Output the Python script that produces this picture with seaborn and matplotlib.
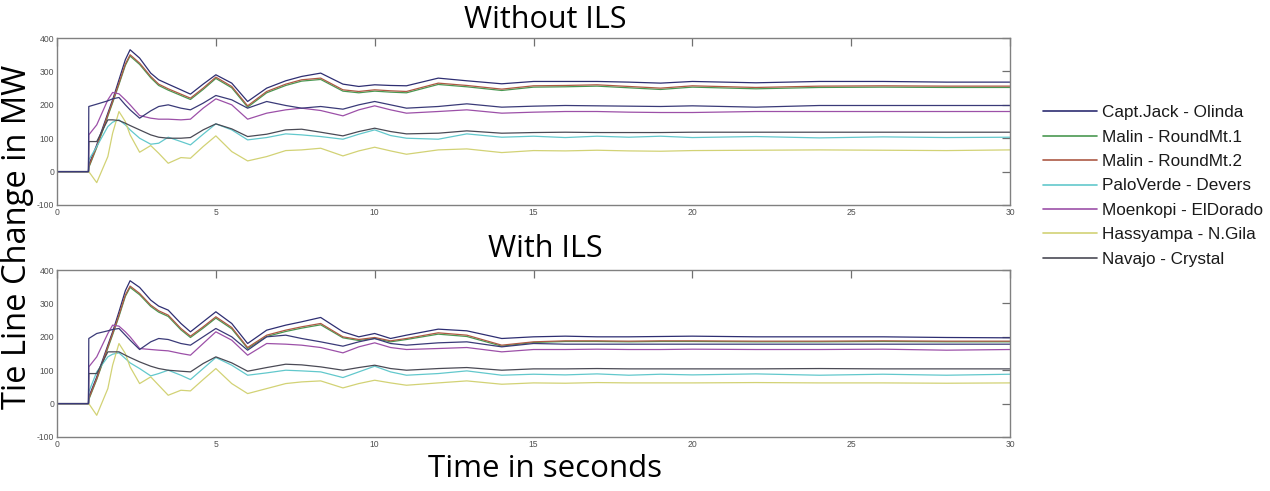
import numpy as np
import pandas as pd
import matplotlib
matplotlib.use("Agg")
import matplotlib.pyplot as plt
from matplotlib.lines import Line2D
import seaborn as sns

# time knots (s)
t = [0, 0.99, 1.0, 1.25, 1.6, 1.75, 1.95, 2.15, 2.3, 2.6, 2.95, 3.2, 3.5, 3.9, 4.2, 4.6,
     5.0, 5.5, 6.0, 6.6, 7.2, 7.7, 8.3, 9.0, 9.5, 10, 10.5, 11, 12, 12.9, 14, 15, 16, 17,
     18, 19, 20, 22, 24, 26, 28, 30]

names = ["Capt.Jack - Olinda", "Malin - RoundMt.1", "Malin - RoundMt.2",
         "PaloVerde - Devers", "Moenkopi - ElDorado", "Hassyampa - N.Gila",
         "Navajo - Crystal"]
extra_name = "_unlabeled"

# ---- Without ILS (MW)
wo_captjack = [0, 0, 20, 80, 175, 215, 275, 335, 365, 340, 295, 275, 262, 245, 232, 262,
               290, 265, 210, 250, 272, 285, 295, 262, 255, 260, 258, 257, 280, 272, 263, 270,
               270, 270, 268, 265, 270, 266, 270, 270, 268, 268]
wo_malin1 = [0, 0, 12, 72, 166, 206, 261, 318, 346, 321, 281, 258, 244, 228, 216, 246,
             279, 251, 193, 236, 258, 271, 276, 241, 236, 241, 238, 236, 261, 254, 243, 253,
             254, 256, 251, 246, 253, 248, 252, 253, 252, 252]
wo_malin2 = [0, 0, 15, 75, 170, 210, 265, 322, 350, 325, 285, 262, 248, 232, 220, 250,
             283, 255, 197, 240, 262, 275, 280, 245, 240, 245, 242, 240, 265, 258, 247, 257,
             258, 260, 255, 250, 257, 252, 256, 257, 256, 256]
wo_paloverde = [0, 0, 35, 75, 135, 148, 155, 140, 125, 100, 82, 85, 103, 90, 80, 112,
                143, 125, 95, 102, 113, 110, 105, 97, 112, 125, 108, 100, 97, 113, 103, 106,
                102, 106, 103, 106, 102, 105, 101, 104, 102, 103]
wo_moenkopi = [0, 0, 110, 140, 215, 237, 233, 215, 200, 168, 160, 157, 157, 155, 157, 190,
               218, 200, 157, 175, 185, 190, 183, 167, 185, 197, 185, 175, 180, 185, 175, 178,
               180, 180, 178, 177, 177, 180, 180, 180, 180, 180]
wo_hassyampa = [0, 0, 0, -33, 45, 115, 180, 150, 110, 58, 78, 55, 25, 42, 40, 75,
                107, 60, 32, 45, 63, 65, 70, 47, 62, 73, 62, 52, 65, 68, 57, 63,
                62, 64, 62, 61, 63, 64, 65, 64, 63, 65]
wo_navajo = [0, 0, 90, 90, 155, 155, 153, 145, 138, 125, 110, 103, 100, 100, 102, 125,
             143, 128, 105, 112, 125, 127, 118, 107, 120, 130, 120, 113, 115, 122, 115, 117,
             118, 117, 117, 117, 118, 118, 118, 118, 118, 118]
wo_extra = [0, 0, 195, 202, 212, 218, 222, 200, 185, 160, 182, 195, 200, 190, 185, 205,
            228, 215, 190, 210, 198, 190, 195, 187, 200, 210, 200, 190, 195, 203, 193, 196,
            198, 197, 196, 195, 197, 193, 198, 198, 198, 198]

# ---- With ILS (MW)
w_captjack = [0, 0, 20, 80, 175, 215, 275, 338, 368, 348, 310, 292, 280, 240, 215, 245,
              275, 240, 180, 220, 235, 245, 258, 215, 200, 210, 195, 205, 223, 218, 195, 200,
              202, 200, 200, 201, 202, 200, 200, 200, 198, 197]
w_malin1 = [0, 0, 12, 72, 166, 206, 261, 321, 348, 326, 291, 274, 261, 221, 198, 226,
            256, 224, 165, 201, 216, 226, 236, 197, 189, 195, 185, 192, 208, 201, 172, 183,
            186, 186, 185, 186, 186, 185, 185, 186, 185, 185]
w_malin2 = [0, 0, 15, 75, 170, 210, 265, 325, 352, 330, 295, 278, 265, 225, 202, 230,
            260, 228, 168, 205, 220, 230, 240, 200, 192, 198, 188, 195, 212, 205, 175, 185,
            188, 188, 187, 188, 188, 187, 187, 188, 187, 187]
w_paloverde = [0, 0, 35, 95, 140, 148, 152, 135, 122, 105, 83, 90, 100, 85, 72, 105,
               138, 115, 85, 92, 100, 98, 95, 78, 95, 112, 95, 85, 90, 98, 85, 88,
               86, 89, 85, 88, 86, 89, 85, 88, 85, 88]
w_moenkopi = [0, 0, 110, 140, 210, 235, 232, 215, 200, 165, 162, 160, 158, 150, 145, 180,
              215, 190, 145, 180, 178, 175, 168, 152, 170, 182, 168, 162, 165, 168, 155, 162,
              162, 163, 162, 162, 163, 162, 162, 163, 160, 162]
w_hassyampa = [0, 0, 0, -35, 45, 115, 180, 150, 110, 60, 80, 55, 25, 40, 38, 72,
               105, 60, 30, 45, 60, 65, 68, 47, 60, 70, 62, 55, 62, 68, 58, 62,
               61, 63, 62, 62, 62, 63, 62, 62, 61, 62]
w_navajo = [0, 0, 90, 90, 155, 155, 155, 145, 138, 125, 112, 105, 100, 97, 95, 120,
            140, 122, 97, 108, 118, 116, 110, 100, 108, 115, 105, 100, 105, 108, 100, 104,
            104, 105, 104, 104, 104, 104, 105, 104, 104, 104]
w_extra = [0, 0, 195, 210, 218, 222, 225, 205, 190, 162, 185, 195, 192, 180, 175, 200,
           225, 200, 160, 200, 205, 195, 185, 172, 185, 195, 180, 175, 182, 185, 170, 180,
           178, 178, 178, 178, 178, 178, 178, 178, 178, 178]

colors = {
    "Capt.Jack - Olinda": "#2e2e72",
    "Malin - RoundMt.1": "#4a9852",
    "Malin - RoundMt.2": "#ad5a45",
    "PaloVerde - Devers": "#62c8cc",
    "Moenkopi - ElDorado": "#9c50a8",
    "Hassyampa - N.Gila": "#d2d275",
    "Navajo - Crystal": "#4a4a55",
    extra_name: "#3a3a78",
}


def to_long(series):
    rows = []
    for name, vals in series.items():
        rows.append(pd.DataFrame({"t": t, "mw": vals, "line": name}))
    return pd.concat(rows, ignore_index=True)


without_df = to_long(dict(zip(names + [extra_name],
                              [wo_captjack, wo_malin1, wo_malin2, wo_paloverde,
                               wo_moenkopi, wo_hassyampa, wo_navajo, wo_extra])))
with_df = to_long(dict(zip(names + [extra_name],
                           [w_captjack, w_malin1, w_malin2, w_paloverde,
                            w_moenkopi, w_hassyampa, w_navajo, w_extra])))

sns.set_style("white")
plt.rcParams["font.family"] = ["Liberation Sans", "DejaVu Sans"]
plt.rcParams["axes.unicode_minus"] = False
plt.rcParams["text.color"] = "black"

fig = plt.figure(figsize=(12.7, 4.91), dpi=100)
ax_top = fig.add_axes([0.0449, 0.5825, 0.7504, 0.340])
ax_bot = fig.add_axes([0.0449, 0.110, 0.7504, 0.340])

for ax, df in ((ax_top, without_df), (ax_bot, with_df)):
    sns.lineplot(data=df, x="t", y="mw", hue="line", palette=colors, ax=ax,
                 legend=False, linewidth=0.9, estimator=None, sort=False)
    ax.set_xlim(0, 30); ax.set_ylim(-100, 400)
    ax.set_xticks(range(0, 31, 5)); ax.set_yticks(range(-100, 401, 100))
    ax.set_xlabel(""); ax.set_ylabel("")
    ax.tick_params(direction="in", length=6, width=0.9, colors="#707070",
                   labelcolor="#505050", labelsize=6.2, top=True, right=True, pad=2)
    for s in ax.spines.values():
        s.set_color("#808080"); s.set_linewidth(1.0)

title_font = ["Open Sans", "DejaVu Sans"]
fig.text(545 / 1270, 1 - 20 / 491, "Without ILS", ha="center", va="center",
         fontsize=22, family=title_font, color="black")
fig.text(545 / 1270, 1 - 249 / 491, "With ILS", ha="center", va="center",
         fontsize=22, family=title_font, color="black")
fig.text(545 / 1270, 1 - 469 / 491, "Time in seconds", ha="center", va="center",
         fontsize=22.5, family=title_font, color="black")
fig.text(18 / 1270, 1 - 237 / 491, "Tie Line Change in MW", ha="center", va="center",
         rotation=90, fontsize=23.5, family=title_font, color="black")

handles = [Line2D([], [], color=colors[n], lw=1.2) for n in names]
fig.legend(handles, names, loc="center left", bbox_to_anchor=(1043 / 1270, 1 - 186 / 491),
           frameon=False, fontsize=12.3, handlelength=3.15, handletextpad=0.3,
           labelspacing=0.55, borderpad=0, borderaxespad=0, labelcolor="#1a1a1a")

fig.savefig("out.png", dpi=100)
